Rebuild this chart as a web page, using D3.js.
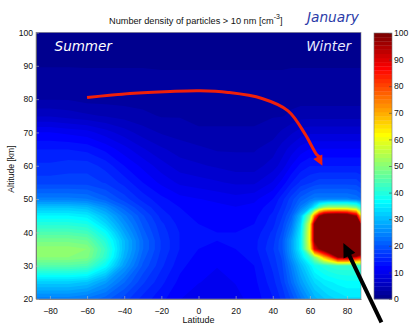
<!DOCTYPE html>
<html><head><meta charset="utf-8">
<script src="https://cdn.jsdelivr.net/npm/d3@7"></script>
<style>body{margin:0;background:#fff}svg{display:block}text{font-family:"Liberation Sans",Arial,sans-serif}</style>
</head><body>
<svg id="c" width="409" height="325"></svg>
<script>
// ---- data ----
const latitudes = [-87.5,-80,-70,-60,-50,-40,-30,-20,-10,0,10,20,30,40,45,50,55,60,62.5,65,67.5,70,75,80,85,87.5];
const altitudes = [20,25,30,32.5,35,37.5,40,42.5,45,47.5,50,55,60,65,70,75,80,90,100];
// one row per altitude (bottom to top), one value per latitude
const density = [
 [24,24,24,23,21,18,15,13,11,10,10,10.5,11.5,14,16,19,23,27,29,30,31,32,33,34,34,34],
 [32,32,32,31,27,22,17.5,14.5,12,11,10.5,11,12,15,17.5,22,27,31,33,34,35,35.5,36.5,37,37,37],
 [45,45,45,44,37,27,20,16,13,11.5,11,11.5,12.5,16,18.5,24,30,35,38,39,40,41,42,42,42,42],
 [50,50,50,49,41,29,21,16.5,13.5,12,11.5,12,13,16.5,19,26,33,42,50,58,68,75,97,97,90,85],
 [51,51,51,50,42,30,22,17,14,12.5,12,12.5,13.5,17,20,27,36,60,90,98,105,115,180,200,160,126],
 [48,48,48,47,40,30,22,17,14,13,12.5,12.5,13.5,16.5,20,27,36,62,100,180,220,240,250,250,240,130],
 [44,44,44,43,37,28,21,16.5,14,13,12.5,12.5,13,16,19,25,35,62,100,200,250,250,250,250,230,110],
 [40,40,40,39,33,26,20,16,13.5,12.5,12,12,12.5,15,18,23,33,60,100,180,240,250,250,250,200,88],
 [36,36,36,35,30,24,19,15,13,12,12,11.5,12,14.5,17,21,30,50,75,95,105,108,110,108,95,65],
 [31,31,31,30,26,21,17,14,12.5,12,11.5,11,11.5,13.5,16,19,24,30,36,45,50,52,52,52,48,40],
 [24,24,24,23.5,21,18,15,13,11.5,11,10.5,10,10.5,12.5,15,18,21,23,24,24,24,24,24,24,23,22],
 [18,18,18,18,17,15,12.5,10.5,9,8.5,8,7.5,7.5,9.5,11.5,14,16,17,17.5,18,18,18,18,18,18,17],
 [16,16,16.5,16.5,15,12.5,10.5,8.5,7,6.5,6,5.5,5.5,7,8.5,11,13,14,14,14,14,14,14,14,14,14],
 [14,14,14,13.5,12,10,8,6.5,5.5,5,4.5,4.5,4.5,5.5,7,8.5,10,11,11,11,11,11,11,11,11,11],
 [11,11,10.5,10,8.5,7,5.5,4.5,4,3.5,3.5,3.5,3.5,4,5,6,7,7.5,7.5,7.5,7.5,7.5,7.5,7.5,7.5,7.5],
 [6,6,5.5,5,4.5,4,3.5,3,3,2.5,2.5,2.5,2.5,3,3,3.5,4,4,4,4,4,4,4,4,4,4],
 [3,3,3,2.5,2.5,2.5,2.5,2,2,2,2,2,2,2,2,2.5,2.5,2.5,2.5,2.5,2.5,2.5,2.5,2.5,2.5,2.5],
 [1.5,1.5,1.5,1.5,1.5,1.5,1.5,1.5,1.5,1.5,1.5,1.5,1.5,1.5,1.5,1.5,1.5,1.5,1.5,1.5,1.5,1.5,1.5,1.5,1.5,1.5],
 [1,1,1,1,1,1,1,1,1,1,1,1,1,1,1,1,1,1,1,1,1,1,1,1,1,1]
];
const xTicks = [-80,-60,-40,-20,0,20,40,60,80];
const yTicks = [20,30,40,50,60,70,80,90,100];
const cbTicks = [0,10,20,30,40,50,60,70,80,90,100];
const titleText = "Number density of particles > 10 nm [cm";
const monthText = "January";
const leftText = "Summer", rightText = "Winter";
// annotation paths in data coordinates [lat, alt]
const transportPath = [[-60,80.5],[-36.9,81.7],[-15.3,82.3],[0.8,82.5],[15.9,82.0],[34.2,80.2],[48.2,76.5],[57.4,69.5],[63.6,63.4],[65.4,62.6]];
const transportTip = [66.7,60.0];
const pointerFrom = [98.5,13.0], pointerTip = [78.0,36.8];

// ---- layout ----
const L = 36, R = 361, T = 32.5, B = 299;
const x = d3.scaleLinear().domain([-87.5,87.5]).range([L,R]);
const y = d3.scaleLinear().domain([20,100]).range([B,T]);
const svg = d3.select("#c");

// MATLAB jet(64)
function jet(m){
  const n=Math.ceil(m/4), u=[];
  for(let k=1;k<=n;k++)u.push(k/n);
  for(let k=1;k<n;k++)u.push(1);
  for(let k=n;k>=1;k--)u.push(k/n);
  const gOff=Math.ceil(n/2)-(m%4===1?1:0);
  const J=Array.from({length:m},()=>[0,0,0]);
  u.forEach((v,k)=>{const g=gOff+k+1,r=g+n,b=g-n;
    if(r>=1&&r<=m)J[r-1][0]=v; if(g>=1&&g<=m)J[g-1][1]=v; if(b>=1&&b<=m)J[b-1][2]=v;});
  return J.map(c=>d3.rgb(Math.round(c[0]*255),Math.round(c[1]*255),Math.round(c[2]*255)).formatHex());
}
const cmap = jet(64);
const thresholds = d3.range(64).map(k=>k*100/64);

// contour sample offset (depends on the d3-contour version)
const tst = d3.contours().size([2,1]).thresholds([0.5])([0,1]);
let minX = Infinity;
tst[0].coordinates.forEach(p=>p.forEach(r=>r.forEach(pt=>{minX=Math.min(minX,pt[0]);})));
const off = minX - 0.5;

const nx = latitudes.length, ny = altitudes.length;
const latIdx = d3.scaleLinear().domain(d3.range(nx)).range(latitudes);
const altIdx = d3.scaleLinear().domain(d3.range(ny)).range(altitudes);
function bandPath(mp){
  return mp.coordinates.map(poly=>poly.map(ring=>"M"+ring.map(p=>
    x(latIdx(p[0]-off)).toFixed(2)+","+y(altIdx(p[1]-off)).toFixed(2)).join("L")+"Z").join("")).join("");
}
const bands = d3.contours().size([nx,ny]).thresholds(thresholds)(density.flat());

svg.append("defs").append("clipPath").attr("id","pc").append("rect")
  .attr("x",L).attr("y",T).attr("width",R-L).attr("height",B-T);
const g = svg.append("g").attr("clip-path","url(#pc)");
g.append("rect").attr("x",L).attr("y",T).attr("width",R-L).attr("height",B-T).attr("fill",cmap[0]);
g.selectAll("path").data(bands).join("path")
  .attr("d",bandPath).attr("fill",(d,i)=>cmap[i]).attr("fill-rule","evenodd");

// axes
const ax = svg.append("g").attr("transform",`translate(0,${B})`)
  .call(d3.axisBottom(x).tickValues(xTicks).tickSizeInner(-3).tickSizeOuter(0).tickPadding(9));
const ay = svg.append("g").attr("transform",`translate(${L},0)`)
  .call(d3.axisLeft(y).tickValues(yTicks).tickSizeInner(-3).tickSizeOuter(0).tickPadding(3));
[ax,ay].forEach(a=>{
  a.select(".domain").attr("stroke","#666").attr("stroke-width",0.8);
  a.selectAll(".tick line").attr("stroke","#bbb").attr("stroke-width",0.6);
  a.selectAll(".tick text").attr("fill","#111").style("font-size","8.6px").style("font-family","'Liberation Sans',Arial,sans-serif");
});
svg.append("rect").attr("x",L).attr("y",T).attr("width",R-L).attr("height",B-T)
  .attr("fill","none").attr("stroke","#888").attr("stroke-width",0.6);

// axis labels
svg.append("text").attr("x",(L+R)/2).attr("y",323).attr("text-anchor","middle")
  .style("font-size","9px").attr("fill","#111").text("Latitude");
svg.append("text").attr("transform","translate(14,169) rotate(-90)").attr("text-anchor","middle")
  .style("font-size","8.6px").attr("fill","#111").text("Altitude [km]");

// title
const tt = svg.append("text").attr("x",109).attr("y",24.3).style("font-size","9.2px").attr("fill","#111");
tt.append("tspan").text(titleText);
tt.append("tspan").attr("dy",-5.5).style("font-size","7px").text("-3");
tt.append("tspan").attr("dy",5.5).text("]");
svg.append("text").attr("x",307).attr("y",21.7).style("font-family","'DejaVu Sans',sans-serif")
  .style("font-style","italic").style("font-size","13.7px").attr("fill","#2b3ca8").text(monthText);

// in-plot labels
svg.append("text").attr("x",x(-77.5)).attr("y",51).style("font-family","'DejaVu Sans',sans-serif")
  .style("font-style","italic").style("font-size","13.5px").attr("fill","#ffffff").text(leftText);
svg.append("text").attr("x",x(58)).attr("y",51).style("font-family","'DejaVu Sans',sans-serif")
  .style("font-style","italic").style("font-size","13.5px").attr("fill","#e8eaff").text(rightText);

// colorbar
const CL=374, CR=392;
const cy = d3.scaleLinear().domain([0,100]).range([299,33]);
svg.append("g").selectAll("rect").data(thresholds).join("rect")
  .attr("x",CL).attr("width",CR-CL)
  .attr("y",d=>cy(d+100/64)).attr("height",d=>cy(d)-cy(d+100/64)+0.3)
  .attr("fill",(d,i)=>cmap[i]);
const ac = svg.append("g").attr("transform",`translate(${CR},0)`)
  .call(d3.axisRight(cy).tickValues(cbTicks).tickSizeInner(-3).tickSizeOuter(0).tickPadding(2));
ac.select(".domain").remove();
ac.selectAll(".tick line").attr("stroke","#444").attr("stroke-width",0.6);
ac.selectAll(".tick text").attr("fill","#111").style("font-size","8.6px").style("font-family","'Liberation Sans',Arial,sans-serif");
svg.append("rect").attr("x",CL).attr("y",cy(100)).attr("width",CR-CL).attr("height",cy(0)-cy(100))
  .attr("fill","none").attr("stroke","#777").attr("stroke-width",0.6);

// red transport arrow
const line = d3.line().x(d=>x(d[0])).y(d=>y(d[1])).curve(d3.curveCatmullRom);
svg.append("path").attr("d",line(transportPath)).attr("fill","none")
  .attr("stroke","#f0200a").attr("stroke-width",3);
function head(from, tip, len, half, color){
  const fx=x(from[0]), fy=y(from[1]), tx=x(tip[0]), ty=y(tip[1]);
  const dx=tx-fx, dy=ty-fy, l=Math.hypot(dx,dy), ux=dx/l, uy=dy/l;
  const bx=tx-ux*len, by=ty-uy*len;
  svg.append("path").attr("d",`M${tx},${ty}L${bx-uy*half},${by+ux*half}L${bx+uy*half},${by-ux*half}Z`).attr("fill",color);
}
head(transportPath[transportPath.length-2], transportTip, 10, 5, "#f0200a");

// black pointer arrow
const pf=[x(pointerFrom[0]),y(pointerFrom[1])], pt=[x(pointerTip[0]),y(pointerTip[1])];
const pl=Math.hypot(pt[0]-pf[0],pt[1]-pf[1]);
const ps=[pt[0]-(pt[0]-pf[0])/pl*11, pt[1]-(pt[1]-pf[1])/pl*11];
svg.append("line").attr("x1",pf[0]).attr("y1",pf[1]).attr("x2",ps[0]).attr("y2",ps[1])
  .attr("stroke","#000").attr("stroke-width",4);
head(pointerFrom, pointerTip, 14, 6.5, "#000");
</script>
</body></html>
